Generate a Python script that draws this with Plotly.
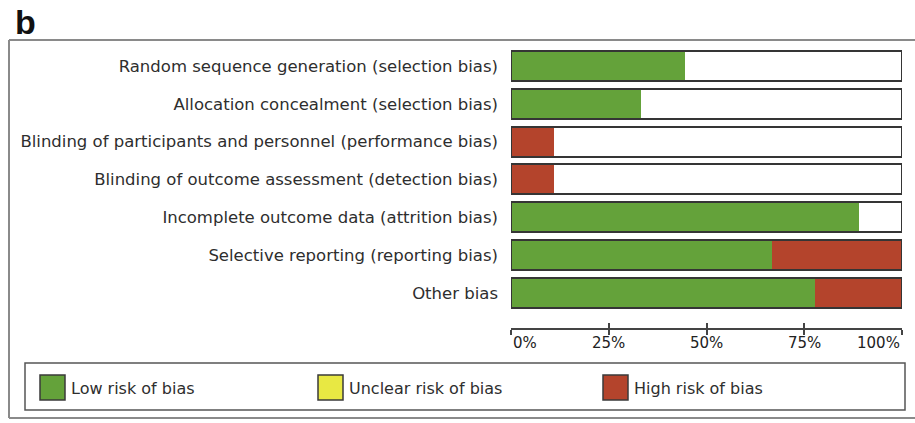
import plotly.graph_objects as go

# Risk of bias domains, top to bottom
domains = [
    "Random sequence generation (selection bias)",
    "Allocation concealment (selection bias)",
    "Blinding of participants and personnel (performance bias)",
    "Blinding of outcome assessment (detection bias)",
    "Incomplete outcome data (attrition bias)",
    "Selective reporting (reporting bias)",
    "Other bias",
]
# Percent of studies (9 included trials)
low_risk = [44.4, 33.3, 0.0, 0.0, 88.9, 66.7, 77.8]
unclear_risk = [55.6, 66.7, 88.9, 88.9, 11.1, 0.0, 0.0]
high_risk = [0.0, 0.0, 11.1, 11.1, 0.0, 33.3, 22.2]
totals = [l + u + h for l, u, h in zip(low_risk, unclear_risk, high_risk)]

tick_values = [0, 25, 50, 75, 100]
tick_labels = ["0%", "25%", "50%", "75%", "100%"]
legend_names = ["Low risk of bias", "Unclear risk of bias", "High risk of bias"]

GREEN = "#64a23a"
YELLOW = "#e8e843"
RED = "#b4442c"
OUTLINE = "#353535"
TEXT = "#2e2e2e"
FONT = "DejaVu Sans"

W, H = 915, 423
L, R, T, B = 511, 13, 47, 95
PW, PH = W - L - R, H - T - B


def px_x(px):
    return (px - L) / PW


def px_y(py):
    return (H - B - py) / PH


fig = go.Figure()
# stacking order: low, high, then unclear fills the rest
for vals, col in [(low_risk, GREEN), (high_risk, RED), (unclear_risk, "#ffffff")]:
    fig.add_trace(go.Bar(
        y=domains, x=vals, orientation="h",
        marker=dict(color=col, line=dict(width=0)),
        showlegend=False, hoverinfo="skip",
    ))

# outline around each full bar
fig.add_trace(go.Bar(
    y=domains, x=totals, orientation="h", xaxis="x2",
    marker=dict(color="rgba(0,0,0,0)", line=dict(color=OUTLINE, width=2)),
    showlegend=False, hoverinfo="skip",
))

n = len(domains)
fig.update_layout(
    width=W, height=H,
    margin=dict(l=L, r=R, t=T, b=B),
    paper_bgcolor="white", plot_bgcolor="white",
    barmode="stack", bargap=0.21,
    showlegend=False,
    font=dict(family=FONT, color=TEXT),
    xaxis=dict(
        range=[0, 100], tickvals=tick_values, showticklabels=False,
        ticks="outside", ticklen=5, tickwidth=1.5, tickcolor="#444",
        showline=True, linecolor="#444", linewidth=1.5,
        showgrid=False, zeroline=False, fixedrange=True,
    ),
    xaxis2=dict(
        range=[0, 100], overlaying="x", side="bottom", anchor="y",
        tickvals=tick_values, showticklabels=False,
        ticks="inside", ticklen=5, tickwidth=1.5, tickcolor="#444",
        showline=False, showgrid=False, zeroline=False,
    ),
    yaxis=dict(
        type="category", categoryorder="array", categoryarray=domains,
        range=[n - 1 + 0.926, -0.5],
        showgrid=False, zeroline=False, showline=False, ticks="",
        ticklabelstandoff=12,
        tickfont=dict(family=FONT, size=16.5, color=TEXT),
    ),
)

annotations = []
for v, lab in zip(tick_values, tick_labels):
    anchor = "left" if v == tick_values[0] else ("right" if v == tick_values[-1] else "center")
    annotations.append(dict(
        x=v, xref="x", y=px_y(343), yref="paper", text=lab, showarrow=False,
        xanchor=anchor, yanchor="middle",
        font=dict(family=FONT, size=15, color="#222"),
    ))

# panel letter
annotations.append(dict(
    x=px_x(13), xref="paper", y=px_y(22), yref="paper", text="<b>b</b>",
    showarrow=False, xanchor="left", yanchor="middle",
    font=dict(family="Liberation Sans", size=34, color="#111"),
))

frame = dict(color="#8a8a8a", width=2)
shapes = [
    # outer panel frame: top, left and bottom edges
    dict(type="line", xref="paper", yref="paper",
         x0=px_x(9), x1=px_x(915), y0=px_y(40), y1=px_y(40), line=frame, layer="below"),
    dict(type="line", xref="paper", yref="paper",
         x0=px_x(9), x1=px_x(9), y0=px_y(40), y1=px_y(418), line=frame, layer="below"),
    dict(type="line", xref="paper", yref="paper",
         x0=px_x(9), x1=px_x(915), y0=px_y(418), y1=px_y(418), line=frame, layer="below"),
    # legend box
    dict(type="rect", xref="paper", yref="paper",
         x0=px_x(25), x1=px_x(905), y0=px_y(410), y1=px_y(363),
         line=dict(color="#555", width=1.5), fillcolor="white"),
]

swatches = [(40, GREEN), (318, YELLOW), (603, RED)]
for (sx, col), name in zip(swatches, legend_names):
    shapes.append(dict(
        type="rect", xref="paper", yref="paper",
        x0=px_x(sx), x1=px_x(sx + 25), y0=px_y(400), y1=px_y(375),
        line=dict(color="#3a3a3a", width=1.5), fillcolor=col,
    ))
    annotations.append(dict(
        x=px_x(sx + 29), xref="paper", y=px_y(388), yref="paper", text=name,
        showarrow=False, xanchor="left", yanchor="middle",
        font=dict(family=FONT, size=16, color=TEXT),
    ))

fig.update_layout(annotations=annotations, shapes=shapes)
fig.write_html("out.html")
